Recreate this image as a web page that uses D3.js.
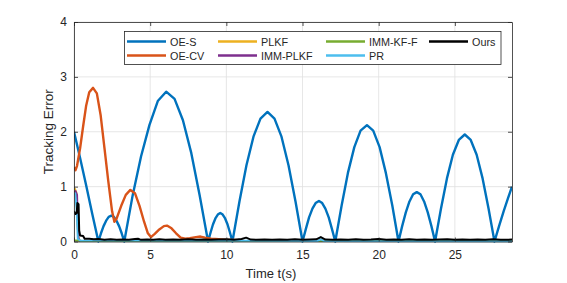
<!DOCTYPE html>
<html>
<head>
<meta charset="utf-8">
<script src="https://cdn.jsdelivr.net/npm/d3@7"></script>
<style>
  body { margin: 0; background: #fff; }
  text { font-family: "Liberation Sans", Arial, sans-serif; fill: #262626; }
</style>
</head>
<body>
<svg id="chart" width="567" height="283"></svg>
<script>
// series, [time, error]
var oeS = [
  [0, 2.0], [0.4, 1.52], [0.8, 1.02], [1.2, 0.5], [1.6, 0],
  [1.77, 0.15], [1.94, 0.28], [2.11, 0.38], [2.28, 0.45], [2.45, 0.47], [2.62, 0.45], [2.79, 0.38], [2.96, 0.28], [3.13, 0.15], [3.3, 0],
  [3.85, 0.84], [4.4, 1.55], [4.95, 2.12], [5.5, 2.56], [6.05, 2.73], [6.6, 2.6], [7.15, 2.21], [7.7, 1.61], [8.25, 0.84], [8.8, 0],
  [8.96, 0.16], [9.12, 0.31], [9.28, 0.42], [9.44, 0.49], [9.6, 0.52], [9.76, 0.49], [9.92, 0.42], [10.08, 0.31], [10.24, 0.16], [10.4, 0],
  [10.86, 0.73], [11.32, 1.39], [11.78, 1.91], [12.24, 2.24], [12.7, 2.36], [13.16, 2.24], [13.62, 1.91], [14.08, 1.39], [14.54, 0.73], [15.0, 0],
  [15.22, 0.23], [15.43, 0.44], [15.65, 0.6], [15.86, 0.7], [16.08, 0.74], [16.29, 0.7], [16.5, 0.6], [16.72, 0.44], [16.93, 0.23], [17.15, 0],
  [17.57, 0.66], [17.98, 1.25], [18.4, 1.72], [18.81, 2.02], [19.23, 2.12], [19.64, 2.02], [20.06, 1.72], [20.47, 1.25], [20.89, 0.66], [21.3, 0],
  [21.54, 0.28], [21.78, 0.53], [22.02, 0.73], [22.26, 0.86], [22.5, 0.9], [22.74, 0.86], [22.98, 0.73], [23.22, 0.53], [23.46, 0.28], [23.7, 0],
  [24.09, 0.6], [24.48, 1.15], [24.87, 1.58], [25.26, 1.85], [25.65, 1.95], [26.04, 1.85], [26.43, 1.58], [26.82, 1.15], [27.21, 0.6], [27.6, 0],
  [27.9, 0.28], [28.2, 0.55], [28.5, 0.8], [28.75, 1.0]
];
var oeCV = [
  [0, 1.35], [0.1, 1.3], [0.2, 1.38], [0.4, 1.7], [0.6, 2.1], [0.8, 2.48], [1.0, 2.72], [1.25, 2.8], [1.5, 2.7],
  [1.75, 2.3], [2.0, 1.7], [2.25, 1.1], [2.5, 0.55], [2.65, 0.36], [2.8, 0.42], [3.1, 0.65], [3.4, 0.85], [3.7, 0.94],
  [4.0, 0.88], [4.3, 0.65], [4.6, 0.36], [4.85, 0.15], [5.05, 0.08], [5.3, 0.14], [5.6, 0.22], [5.9, 0.28], [6.1, 0.29],
  [6.4, 0.24], [6.7, 0.15], [7.0, 0.07], [7.3, 0.05], [7.6, 0.06], [8.0, 0.08], [8.3, 0.09], [8.6, 0.07], [9.0, 0.05],
  [9.5, 0.04], [10.0, 0.03], [10.5, 0.03], [11.0, 0.02]
];
var plkf = [[0, 0.95], [0.06, 0.96], [0.15, 0.9], [0.24, 0.3], [0.3, 0.02], [0.5, 0.01], [28.75, 0.01]];
var immPlkf = [[0, 0.9], [0.1, 0.92], [0.2, 0.85], [0.27, 0.1], [0.35, 0.01], [28.75, 0.01]];
var immKfF = [[0, 0.02], [0.3, 0.02], [0.5, 0.01], [28.75, 0.01]];
var pr = [[0, 0.85], [0.08, 0.88], [0.17, 0.6], [0.25, 0.05], [0.4, 0.02], [16.0, 0.01], [16.2, 0.04], [16.4, 0.01], [28.75, 0.005]];
var ours = [
  [0, 0.55], [0.1, 0.5], [0.18, 0.52], [0.22, 0.7], [0.3, 0.68], [0.34, 0.2], [0.4, 0.11], [0.6, 0.1], [0.7, 0.05],
  [1.0, 0.05], [1.3, 0.04], [1.6, 0.045], [2.0, 0.03], [2.4, 0.04], [2.8, 0.03], [3.2, 0.035], [3.6, 0.03], [4.0, 0.045],
  [4.2, 0.05], [4.4, 0.03], [4.8, 0.035], [5.2, 0.03], [5.6, 0.04], [6.0, 0.03], [6.5, 0.035], [7.0, 0.03], [7.5, 0.04],
  [8.0, 0.03], [8.5, 0.035], [9.0, 0.03], [9.5, 0.035], [10.0, 0.04], [10.5, 0.03], [11.0, 0.045], [11.3, 0.07],
  [11.6, 0.035], [12.0, 0.03], [12.5, 0.035], [13.0, 0.03], [13.5, 0.035], [14.0, 0.03], [14.5, 0.04], [15.0, 0.03],
  [15.5, 0.035], [15.9, 0.04], [16.2, 0.08], [16.5, 0.035], [17.0, 0.03], [17.5, 0.035], [18.0, 0.03], [18.5, 0.04],
  [19.0, 0.03], [19.5, 0.035], [20.0, 0.045], [20.5, 0.03], [21.0, 0.035], [21.5, 0.03], [22.0, 0.04], [22.5, 0.03],
  [23.0, 0.035], [23.5, 0.03], [24.0, 0.035], [24.5, 0.04], [25.0, 0.03], [25.5, 0.035], [26.0, 0.03], [26.5, 0.035],
  [27.0, 0.03], [27.5, 0.04], [28.0, 0.03], [28.75, 0.035]
];

var seriesNames = ["OE-S", "OE-CV", "PLKF", "IMM-PLKF", "IMM-KF-F", "PR", "Ours"];
var seriesData = [oeS, oeCV, plkf, immPlkf, immKfF, pr, ours];
var seriesColors = ["#0072BD", "#D95319", "#EDB120", "#7E2F8E", "#77AC30", "#4DBEEE", "#000000"];
var xTicks = [0, 5, 10, 15, 20, 25];
var yTicks = [0, 1, 2, 3, 4];

var margin = {left: 74, right: 55, top: 22, bottom: 41.5};
var width = 567 - margin.left - margin.right;
var height = 283 - margin.top - margin.bottom;

var svg = d3.select("#chart");
var chartGroup = svg.append("g")
  .attr("transform", `translate(${margin.left}, ${margin.top})`);

var xLinearScale = d3.scaleLinear().domain([0, 28.75]).range([0, width]);
var yLinearScale = d3.scaleLinear().domain([0, 4]).range([height, 0]);

// grid
chartGroup.append("g").selectAll("line")
  .data(xTicks).enter().append("line")
  .attr("x1", d => xLinearScale(d)).attr("x2", d => xLinearScale(d))
  .attr("y1", 0).attr("y2", height)
  .attr("stroke", "#e0e0e0").attr("stroke-width", 0.8);
chartGroup.append("g").selectAll("line")
  .data(yTicks).enter().append("line")
  .attr("x1", 0).attr("x2", width)
  .attr("y1", d => yLinearScale(d)).attr("y2", d => yLinearScale(d))
  .attr("stroke", "#e0e0e0").attr("stroke-width", 0.8);

// lines
chartGroup.append("clipPath").attr("id", "clip")
  .append("rect").attr("x", 0).attr("y", -2).attr("width", width).attr("height", height + 4);

var line = d3.line()
  .x(d => xLinearScale(d[0]))
  .y(d => yLinearScale(d[1]));

var widths = [2.4, 2.4, 2, 2, 2, 2, 2];
chartGroup.append("g").attr("clip-path", "url(#clip)")
  .selectAll("path")
  .data(seriesData).enter().append("path")
  .attr("d", d => line(d))
  .attr("fill", "none")
  .attr("stroke", (d, i) => seriesColors[i])
  .attr("stroke-width", (d, i) => widths[i])
  .attr("stroke-linejoin", "round");

// axes (ticks inward, box on)
var bottomAxis = d3.axisBottom(xLinearScale).tickValues(xTicks).tickFormat(d3.format("d")).tickSizeInner(-4).tickSizeOuter(0).tickPadding(9);
var leftAxis = d3.axisLeft(yLinearScale).tickValues(yTicks).tickFormat(d3.format("d")).tickSizeInner(-4).tickSizeOuter(0).tickPadding(7);
var topAxis = d3.axisTop(xLinearScale).tickValues(xTicks).tickSizeInner(-4).tickSizeOuter(0).tickFormat("");
var rightAxis = d3.axisRight(yLinearScale).tickValues(yTicks).tickSizeInner(-4).tickSizeOuter(0).tickFormat("");

var xAxis = chartGroup.append("g").attr("transform", `translate(0, ${height})`).call(bottomAxis);
var yAxis = chartGroup.append("g").call(leftAxis);
chartGroup.append("g").call(topAxis);
chartGroup.append("g").attr("transform", `translate(${width}, 0)`).call(rightAxis);

chartGroup.selectAll(".domain").attr("stroke", "#262626").attr("stroke-width", 0.8);
chartGroup.selectAll(".tick line").attr("stroke", "#262626").attr("stroke-width", 0.8);
chartGroup.selectAll(".tick text")
  .style("font-size", "12px")
  .style("font-family", "'Liberation Sans', Arial, sans-serif")
  .attr("fill", "#262626");

// axis labels
svg.append("text")
  .attr("x", 271).attr("y", 278)
  .attr("text-anchor", "middle")
  .style("font-size", "13px")
  .text("Time t(s)");

svg.append("text")
  .attr("transform", "rotate(-90)")
  .attr("x", -(margin.top + height / 2)).attr("y", 53)
  .attr("text-anchor", "middle")
  .style("font-size", "13.5px")
  .text("Tracking Error");

// legend
var legend = svg.append("g");
legend.append("rect")
  .attr("x", 124.5).attr("y", 31.5)
  .attr("width", 376.5).attr("height", 33)
  .attr("fill", "#fff").attr("stroke", "#262626").attr("stroke-width", 0.8);

var colX = [127, 218, 326, 429];
var rowY = [41.5, 55.5];
var items = legend.selectAll("g.item")
  .data(seriesNames).enter().append("g").attr("class", "item")
  .attr("transform", (d, i) => {
    var col = Math.floor(i / 2);
    var row = i % 2;
    return `translate(${colX[col]}, ${rowY[row]})`;
  });
items.append("line")
  .attr("x1", 0).attr("x2", 39).attr("y1", 0).attr("y2", 0)
  .attr("stroke", (d, i) => seriesColors[i]).attr("stroke-width", 2.4);
items.append("text")
  .attr("x", 43).attr("y", 4)
  .style("font-size", "10.8px")
  .text(d => d);
</script>
</body>
</html>
